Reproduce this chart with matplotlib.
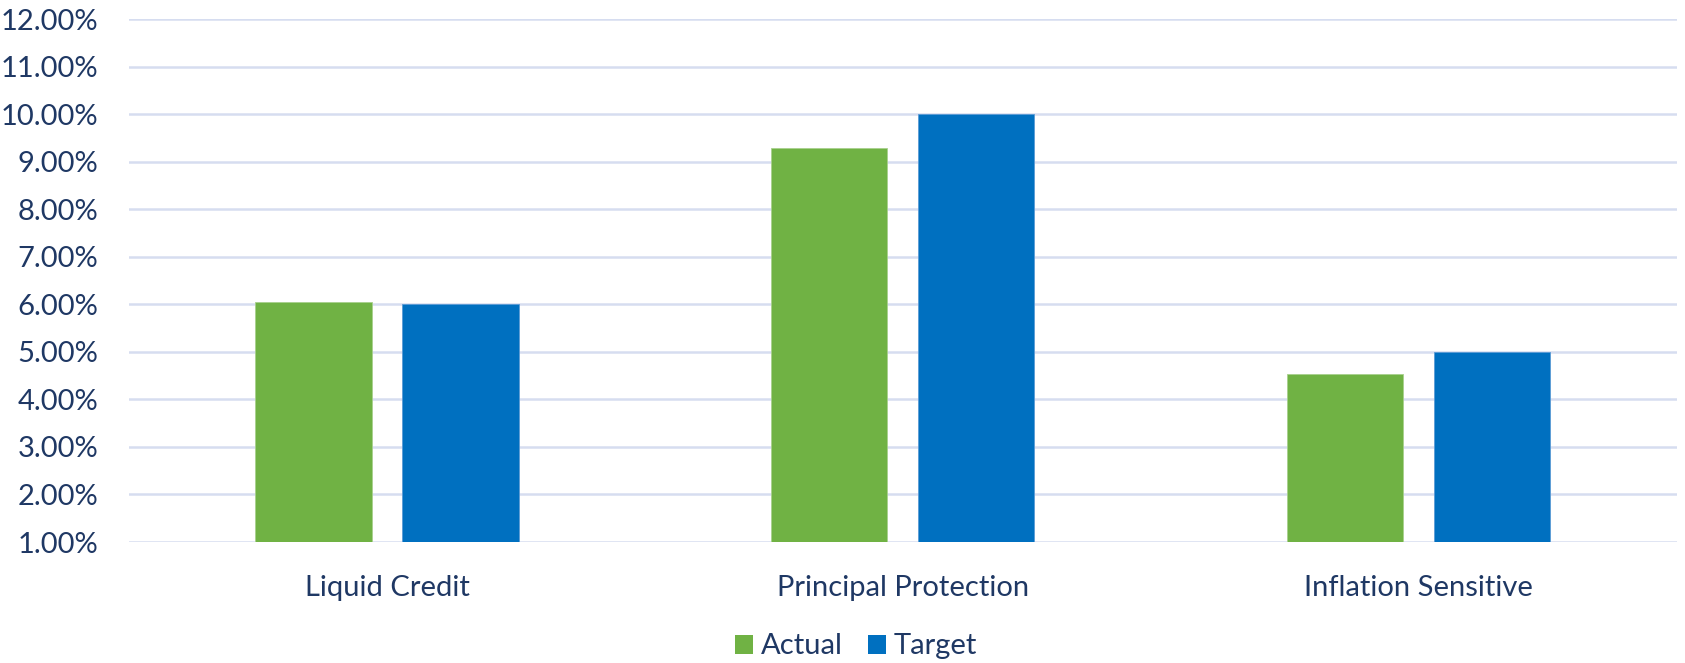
import matplotlib
matplotlib.use("Agg")
import matplotlib.pyplot as plt
import numpy as np
from matplotlib.ticker import FuncFormatter, MultipleLocator
from matplotlib.patches import Patch

categories = ["Liquid Credit", "Principal Protection", "Inflation Sensitive"]
actual = [6.04, 9.28, 4.54]
target = [6.00, 10.00, 5.00]
series_names = ["Actual", "Target"]

green = "#70B244"
blue = "#0070C0"
text_color = "#1F3864"
grid_color = "#D6DDF0"

plt.rcParams['font.family'] = ['Lato', 'DejaVu Sans']

fig = plt.figure(figsize=(16.85, 6.63), dpi=100)
ax = fig.add_axes([0.0766, 0.1825, 0.9184, 0.7885])

x = np.arange(len(categories))
w = 0.225
off = 0.1425
ax.bar(x - off, actual, w, bottom=0, color=green, edgecolor="#A8D08D", linewidth=0.6, zorder=3)
ax.bar(x + off, target, w, bottom=0, color=blue, edgecolor="#5B9BD5", linewidth=0.6, zorder=3)

ax.set_xlim(-0.5, len(categories) - 0.5)
ax.set_ylim(1, 12)
ax.yaxis.set_major_locator(MultipleLocator(1))
ax.yaxis.set_major_formatter(FuncFormatter(lambda v, p: f"{v:.2f}%"))
ax.grid(axis='y', color=grid_color, linewidth=1.8, zorder=0)
ax.set_axisbelow(True)
for s in ax.spines.values():
    s.set_visible(False)
ax.tick_params(axis='y', length=0, pad=22, labelsize=21, labelcolor=text_color)
ax.tick_params(axis='x', length=0, pad=24, labelsize=21, labelcolor=text_color)
ax.set_xticks(x)
ax.set_xticklabels(categories)

handles = [Patch(facecolor=green, edgecolor='none'), Patch(facecolor=blue, edgecolor='none')]
fig.legend(handles, series_names, loc='center', bbox_to_anchor=(0.508, 0.025), ncol=2,
           frameon=False, fontsize=21, labelcolor=text_color, handlelength=0.62,
           handleheight=0.62, handletextpad=0.28, columnspacing=0.85)

fig.savefig("out.png", dpi=100)
